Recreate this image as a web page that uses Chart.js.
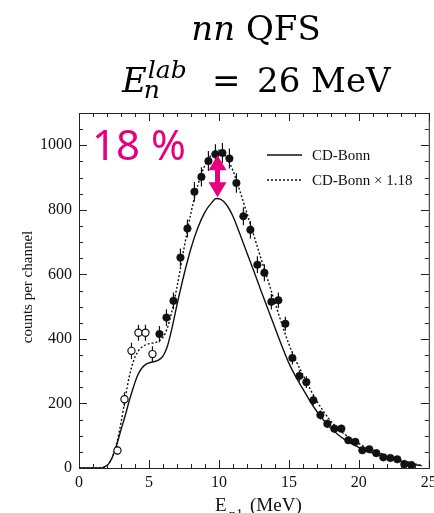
<!DOCTYPE html>
<html>
<head>
<meta charset="utf-8">
<script src="https://cdn.jsdelivr.net/npm/chart.js@4.4.1/dist/chart.umd.min.js"></script>
<style>
  html, body { margin: 0; padding: 0; background: #fff; }
  canvas { display: block; }
</style>
</head>
<body>
<canvas id="chart_qfs" width="434" height="513"></canvas>
<script>
// axis ranges and ticks
const X_MIN = 0, X_MAX = 25, X_MAJOR = 5, X_MINOR = 1;
const Y_MIN = 0, Y_MAX = 1100, Y_MAJOR = 200, Y_MINOR = 50;
const xTickLabels = ['0', '5', '10', '15', '20', '25'];
const yTickLabels = ['0', '200', '400', '600', '800', '1000'];

// open circles (low energy part)
const openE = [2.75, 3.25, 3.75, 4.25, 4.75, 5.25];
const openCounts = [54, 213, 363, 419, 419, 353];
const openErr = [14, 22, 25, 25, 25, 24];

// filled circles
const fillE = [5.75, 6.25, 6.75, 7.25, 7.75, 8.25, 8.75, 9.25, 9.75, 10.25,
    10.75, 11.25, 11.75, 12.25, 12.75, 13.25, 13.75, 14.25, 14.75, 15.25,
    15.75, 16.25, 16.75, 17.25, 17.75, 18.25, 18.75, 19.25, 19.75, 20.25,
    20.75, 21.25, 21.75, 22.25, 22.75, 23.25, 23.75];
const fillCounts = [415, 466, 518, 652, 742, 856, 902, 951, 972, 976,
    959, 883, 780, 738, 630, 605, 515, 520, 447, 341,
    285, 266, 210, 164, 137, 122, 122, 86, 81, 55,
    58, 46, 33, 31, 27, 12, 9];
const fillErr = [25, 26, 26, 28, 28, 30, 30, 31, 31, 31,
    31, 30, 28, 27, 26, 26, 24, 24, 22, 20,
    18, 18, 16, 14, 13, 12, 12, 11, 10, 9,
    9, 8, 7, 7, 6, 5, 5];

// theory curves
const curveE = [0, 1.0, 1.5, 1.8, 2.1, 2.4, 2.7, 3.0, 3.3, 3.6,
    3.9, 4.2, 4.5, 4.8, 5.1, 5.4, 5.7, 6.0, 6.3, 6.6,
    7.0, 7.5, 8.0, 8.5, 9.0, 9.5, 9.8, 10.1, 10.5, 11.0,
    11.5, 12.0, 12.5, 13.0, 13.5, 14.0, 14.5, 15.0, 15.5, 16.0,
    16.5, 17.0, 17.5, 18.0, 18.5, 19.0, 19.5, 20.0, 20.5, 21.0,
    21.5, 22.0, 22.5, 23.0, 23.5, 24.0, 24.5];
const cdBonn = [0, 0, 0, 3, 12, 35, 72, 118, 162, 210,
    252, 288, 310, 322, 327, 330, 335, 347, 375, 425,
    505, 598, 680, 745, 793, 823, 835, 833, 818, 780,
    725, 667, 610, 550, 493, 435, 378, 325, 282, 245,
    208, 175, 147, 123, 104, 88, 75, 64, 54, 46,
    39, 33, 27, 21, 16, 11, 7];
const cdBonnScaled = [0, 0, 0, 3, 12, 36, 78, 140, 215, 285,
    332, 360, 375, 382, 386, 388, 393, 405, 432, 478,
    560, 680, 790, 878, 938, 972, 985, 983, 965, 922,
    858, 790, 720, 650, 582, 513, 446, 384, 333, 289,
    246, 207, 174, 145, 123, 104, 89, 76, 64, 54,
    46, 39, 32, 25, 19, 13, 8];

// 18 % arrow between the two peaks
const ARROW_E = 9.9;
const ARROW_TOP = 969;
const ARROW_BOTTOM = 839;

const SERIF = '"Liberation Serif", "Times New Roman", serif';
const MATH = '"DejaVu Serif", serif';
const PINK = '#e6007e';
const INK = '#111';

function toPoints(xs, ys) {
    return xs.map((x, i) => ({ x: x, y: ys[i] }));
}

function drawErrorBars(chart, xs, ys, errs) {
    const ctx = chart.ctx;
    const sx = chart.scales.x, sy = chart.scales.y;
    ctx.save();
    ctx.strokeStyle = INK;
    ctx.lineWidth = 1.2;
    ctx.beginPath();
    for (let i = 0; i < xs.length; i++) {
        const px = sx.getPixelForValue(xs[i]);
        ctx.moveTo(px, sy.getPixelForValue(ys[i] - errs[i]));
        ctx.lineTo(px, sy.getPixelForValue(ys[i] + errs[i]));
    }
    ctx.stroke();
    ctx.restore();
}

function drawFrame(chart) {
    const ctx = chart.ctx;
    const a = chart.chartArea;
    const sx = chart.scales.x, sy = chart.scales.y;
    ctx.save();
    ctx.strokeStyle = '#222';
    ctx.lineWidth = 1;
    ctx.strokeRect(a.left + 0.5, a.top + 0.5, a.right - a.left, a.bottom - a.top);

    // inward ticks on all four sides
    ctx.beginPath();
    for (let v = X_MIN; v <= X_MAX; v += X_MINOR) {
        const len = v % X_MAJOR === 0 ? 8 : 4;
        const px = Math.round(sx.getPixelForValue(v)) + 0.5;
        ctx.moveTo(px, a.bottom);
        ctx.lineTo(px, a.bottom - len);
        ctx.moveTo(px, a.top);
        ctx.lineTo(px, a.top + len);
    }
    for (let v = Y_MIN; v <= Y_MAX; v += Y_MINOR) {
        const len = v % Y_MAJOR === 0 ? 8 : 4;
        const py = Math.round(sy.getPixelForValue(v)) + 0.5;
        ctx.moveTo(a.left, py);
        ctx.lineTo(a.left + len, py);
        ctx.moveTo(a.right, py);
        ctx.lineTo(a.right - len, py);
    }
    ctx.stroke();

    // tick labels
    ctx.fillStyle = INK;
    ctx.font = '16px ' + SERIF;
    ctx.textAlign = 'center';
    ctx.textBaseline = 'alphabetic';
    xTickLabels.forEach(t => {
        ctx.fillText(t, sx.getPixelForValue(Number(t)), a.bottom + 19);
    });
    ctx.textAlign = 'right';
    ctx.textBaseline = 'middle';
    yTickLabels.forEach(t => {
        ctx.fillText(t, a.left - 7, sy.getPixelForValue(Number(t)));
    });

    // axis titles
    ctx.textAlign = 'left';
    ctx.textBaseline = 'alphabetic';
    ctx.font = '19px ' + SERIF;
    ctx.fillText('E', 215, 511);
    ctx.font = '14px ' + SERIF;
    ctx.fillText('n1', 229, 519);
    ctx.font = '19px ' + SERIF;
    ctx.fillText('(MeV)', 250, 511);

    ctx.translate(27, 287);
    ctx.rotate(-Math.PI / 2);
    ctx.textAlign = 'center';
    ctx.font = '15px ' + SERIF;
    ctx.fillText('counts per channel', 0, 5);
    ctx.restore();
}

function drawLegend(chart) {
    const ctx = chart.ctx;
    ctx.save();
    ctx.strokeStyle = INK;
    ctx.lineWidth = 1.4;
    ctx.beginPath();
    ctx.moveTo(267, 155);
    ctx.lineTo(302, 155);
    ctx.stroke();
    ctx.setLineDash([2, 2]);
    ctx.beginPath();
    ctx.moveTo(267, 180);
    ctx.lineTo(302, 180);
    ctx.stroke();
    ctx.setLineDash([]);
    ctx.fillStyle = INK;
    ctx.font = '15px ' + SERIF;
    ctx.textBaseline = 'alphabetic';
    ctx.fillText('CD-Bonn', 312, 160);
    ctx.fillText('CD-Bonn \u00d7 1.18', 312, 185);
    ctx.restore();
}

function drawArrow(chart) {
    const ctx = chart.ctx;
    const sx = chart.scales.x, sy = chart.scales.y;
    const x = sx.getPixelForValue(ARROW_E);
    const top = sy.getPixelForValue(ARROW_TOP);
    const bottom = sy.getPixelForValue(ARROW_BOTTOM);
    const head = 15, half = 9, shaft = 2.5;
    ctx.save();
    ctx.fillStyle = PINK;
    ctx.beginPath();
    ctx.moveTo(x, top);
    ctx.lineTo(x + half, top + head);
    ctx.lineTo(x + shaft, top + head);
    ctx.lineTo(x + shaft, bottom - head);
    ctx.lineTo(x + half, bottom - head);
    ctx.lineTo(x, bottom);
    ctx.lineTo(x - half, bottom - head);
    ctx.lineTo(x - shaft, bottom - head);
    ctx.lineTo(x - shaft, top + head);
    ctx.lineTo(x - half, top + head);
    ctx.closePath();
    ctx.fill();

    ctx.font = '42px "Noto Sans", sans-serif';
    ctx.textBaseline = 'alphabetic';
    ctx.fillText('18 %', 92, 160);
    ctx.restore();
}

function drawTitle(chart) {
    const ctx = chart.ctx;
    ctx.save();
    ctx.fillStyle = '#000';
    ctx.textBaseline = 'alphabetic';
    ctx.textAlign = 'left';

    ctx.font = 'italic 34px ' + MATH;
    const wNN = ctx.measureText('nn').width;
    ctx.font = '34px ' + MATH;
    const wQFS = ctx.measureText(' QFS').width;
    let x = 256 - (wNN + wQFS) / 2;
    ctx.font = 'italic 34px ' + MATH;
    ctx.fillText('nn', x, 40);
    ctx.font = '34px ' + MATH;
    ctx.fillText(' QFS', x + wNN, 40);

    x = 122;
    ctx.font = 'italic 34px ' + MATH;
    ctx.fillText('E', x, 92);
    x += ctx.measureText('E').width;
    ctx.font = 'italic 25px ' + MATH;
    ctx.fillText('lab', x + 1, 78);
    ctx.fillText('n', x - 3, 98);
    ctx.font = '34px ' + MATH;
    ctx.fillText('=', 212, 92);
    ctx.fillText('26 MeV', 257, 92);
    ctx.restore();
}

const decorPlugin = {
    id: 'decor',
    beforeDatasetsDraw(chart) {
        drawErrorBars(chart, openE, openCounts, openErr);
        drawErrorBars(chart, fillE, fillCounts, fillErr);
    },
    afterDatasetsDraw(chart) {
        drawFrame(chart);
        drawLegend(chart);
        drawArrow(chart);
        drawTitle(chart);
    }
};

const ctx = document.getElementById('chart_qfs');
new Chart(ctx, {
    type: 'scatter',
    data: {
        datasets: [
            {
                label: 'data (open)',
                data: toPoints(openE, openCounts),
                pointRadius: 3.6,
                pointBackgroundColor: '#fff',
                pointBorderColor: INK,
                pointBorderWidth: 1.2,
                order: 0
            },
            {
                label: 'data',
                data: toPoints(fillE, fillCounts),
                pointRadius: 3.8,
                pointBackgroundColor: INK,
                pointBorderColor: INK,
                pointBorderWidth: 0.5,
                order: 0
            },
            {
                label: 'CD-Bonn',
                data: toPoints(curveE, cdBonn),
                showLine: true,
                pointRadius: 0,
                borderColor: INK,
                borderWidth: 1.4,
                cubicInterpolationMode: 'monotone',
                order: 1
            },
            {
                label: 'CD-Bonn \u00d7 1.18',
                data: toPoints(curveE, cdBonnScaled),
                showLine: true,
                pointRadius: 0,
                borderColor: INK,
                borderWidth: 1.4,
                borderDash: [2, 2],
                cubicInterpolationMode: 'monotone',
                order: 1
            }
        ]
    },
    options: {
        responsive: false,
        animation: false,
        layout: {
            padding: { left: 79, right: 3, top: 113, bottom: 45 }
        },
        scales: {
            x: { type: 'linear', min: X_MIN, max: X_MAX, display: false },
            y: { type: 'linear', min: Y_MIN, max: Y_MAX, display: false }
        },
        plugins: {
            legend: { display: false },
            tooltip: { enabled: false }
        }
    },
    plugins: [decorPlugin]
});
</script>
</body>
</html>
